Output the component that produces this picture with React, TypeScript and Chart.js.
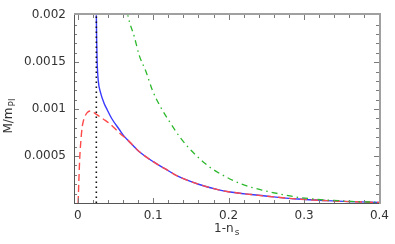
import React, { useEffect, useRef } from 'react';
import { Chart, registerables } from 'chart.js';

Chart.register(...registerables);

// ---- data ----
const blueX = [0.0245, 0.025, 0.0256, 0.0272, 0.03, 0.035, 0.0386, 0.045, 0.0553, 0.0605, 0.07, 0.0825, 0.1, 0.1167, 0.134, 0.16, 0.187, 0.2, 0.23, 0.26, 0.292, 0.33, 0.36, 0.4];
const blueY = [0.0021, 0.00175, 0.00152, 0.0013, 0.00118, 0.00106, 0.001, 0.0009, 0.00078, 0.00072, 0.00064, 0.00054, 0.00044, 0.00036, 0.00028, 0.0002, 0.00014, 0.00012, 0.00009, 0.000065, 0.000042, 0.000025, 0.000015, 0.000006];

const redX = [0.0005, 0.0015, 0.0026, 0.004, 0.0057, 0.008, 0.0122, 0.017, 0.022, 0.029, 0.0364, 0.043, 0.0496, 0.056, 0.065, 0.0825, 0.1, 0.1167, 0.134, 0.16, 0.187, 0.2, 0.23, 0.26, 0.292, 0.33, 0.36, 0.4];
const redY = [0.0, 0.00025, 0.00048, 0.00065, 0.0008, 0.00089, 0.00096, 0.00098, 0.00096, 0.00092, 0.00088, 0.00084, 0.00079, 0.00074, 0.00068, 0.00054, 0.00044, 0.00036, 0.00028, 0.0002, 0.00014, 0.00012, 0.00009, 0.000065, 0.000042, 0.000025, 0.000015, 0.000005];

const greenX = [0.0655, 0.0662, 0.075, 0.0816, 0.0904, 0.099, 0.11, 0.123, 0.1364, 0.154, 0.1737, 0.1915, 0.2175, 0.244, 0.268, 0.292, 0.318, 0.345, 0.371, 0.4];
const greenY = [0.00205, 0.00201, 0.00177, 0.00157, 0.0014, 0.0012, 0.00102, 0.00085, 0.00069, 0.00053, 0.00039, 0.0003, 0.0002, 0.000138, 0.000096, 0.000061, 0.000039, 0.000025, 0.000014, 0.000009];

const dottedX = [0.0246, 0.0246];
const dottedY = [0.0, 0.0021];

const xTickValues = [0, 0.1, 0.2, 0.3, 0.4];
const xTickLabels = ['0', '0.1', '0.2', '0.3', '0.4'];
const yTickValues = [0.0005, 0.001, 0.0015, 0.002];
const yTickLabels = ['0.0005', '0.001', '0.0015', '0.002'];
const xMinorStep = 0.02;
const yMinorStep = 0.0001;

const xTitle = '1-n';
const xTitleSub = 's';
const yTitle = 'M/m';
const yTitleSub = 'Pl';

const X_MIN = -0.005;
const X_MAX = 0.4;
const Y_MIN = 0;
const Y_MAX = 0.002;

const FONT = 'DejaVu Sans';

function zip(xs: number[], ys: number[]) {
  return xs.map((x, i) => ({ x, y: ys[i] }));
}

function labelFor(values: number[], labels: string[], v: number) {
  for (let i = 0; i < values.length; i++) {
    if (Math.abs(values[i] - v) < 1e-9) return labels[i];
  }
  return '';
}

const framePlugin = {
  id: 'frameTicks',
  afterDraw(chart: any) {
    const ctx = chart.ctx as CanvasRenderingContext2D;
    const ca = chart.chartArea;
    const L = Math.round(ca.left);
    const R = Math.round(ca.right);
    const T = Math.round(ca.top);
    const B = Math.round(ca.bottom);
    const xs = chart.scales.x;
    const ys = chart.scales.y;
    ctx.save();
    ctx.setLineDash([]);
    // ticks
    ctx.fillStyle = '#7a7a7a';
    const nX = Math.round(X_MAX / xMinorStep);
    for (let i = 0; i <= nX; i++) {
      const v = i * xMinorStep;
      const px = Math.round(xs.getPixelForValue(v));
      const major = xTickValues.some((t) => Math.abs(t - v) < 1e-9);
      const len = major ? 5 : 3;
      ctx.fillRect(px, B - len, 1, len);
      ctx.fillRect(px, T, 1, len);
    }
    const nY = Math.round((Y_MAX - Y_MIN) / yMinorStep);
    for (let i = 1; i < nY; i++) {
      const v = Y_MIN + i * yMinorStep;
      const py = Math.round(ys.getPixelForValue(v));
      const major = yTickValues.some((t) => Math.abs(t - v) < 1e-9);
      const len = major ? 5 : 3;
      ctx.fillRect(L, py, len, 1);
      ctx.fillRect(R - len, py, len, 1);
    }
    // frame
    ctx.fillStyle = '#555555';
    ctx.fillRect(L, T, 1, B - T + 1);
    ctx.fillRect(L, B, R - L + 1, 1);
    ctx.fillStyle = '#a0a0a0';
    ctx.fillRect(L, T - 2, R - L + 2, 2);
    ctx.fillRect(R, T - 2, 2, B - T + 3);

    // titles
    ctx.fillStyle = '#333';
    ctx.textBaseline = 'alphabetic';
    ctx.textAlign = 'left';
    ctx.font = `12px "${FONT}"`;
    const wMain = ctx.measureText(xTitle).width;
    ctx.font = `9px "${FONT}"`;
    const wSub = ctx.measureText(xTitleSub).width;
    const cx = (ca.left + ca.right) / 2;
    const startX = cx - (wMain + wSub + 1) / 2;
    ctx.font = `12px "${FONT}"`;
    ctx.fillText(xTitle, startX, 232);
    ctx.font = `9px "${FONT}"`;
    ctx.fillText(xTitleSub, startX + wMain + 1, 235);
    // y title (rotated)
    ctx.translate(12, (ca.top + ca.bottom) / 2 + 7);
    ctx.rotate(-Math.PI / 2);
    ctx.font = `12px "${FONT}"`;
    const yMain = ctx.measureText(yTitle).width;
    ctx.font = `9px "${FONT}"`;
    const ySub = ctx.measureText(yTitleSub).width;
    const sy = -(yMain + ySub + 1) / 2;
    ctx.font = `12px "${FONT}"`;
    ctx.fillText(yTitle, sy, 0);
    ctx.font = `9px "${FONT}"`;
    ctx.fillText(yTitleSub, sy + yMain + 1, 3);
    ctx.restore();
  },
};

export default function App() {
  const ref = useRef<HTMLCanvasElement | null>(null);
  useEffect(() => {
    if (!ref.current) return;
    const chart = new Chart(ref.current, {
      type: 'scatter',
      data: {
        datasets: [
          {
            label: 'dotted',
            data: zip(dottedX, dottedY),
            showLine: true,
            borderColor: '#111',
            borderWidth: 1.6,
            borderDash: [1.6, 3.4],
            pointRadius: 0,
          },
          {
            label: 'green',
            data: zip(greenX, greenY),
            showLine: true,
            borderColor: '#2cb82c',
            borderWidth: 1.3,
            borderDash: [6, 4, 1.5, 4],
            pointRadius: 0,
            cubicInterpolationMode: 'monotone',
          },
          {
            label: 'red',
            data: zip(redX, redY),
            showLine: true,
            borderColor: '#ff4a4a',
            borderWidth: 1.4,
            borderDash: [7, 4],
            pointRadius: 0,
            cubicInterpolationMode: 'monotone',
          },
          {
            label: 'blue',
            data: zip(blueX, blueY),
            showLine: true,
            borderColor: '#3a3aff',
            borderWidth: 1.4,
            pointRadius: 0,
            cubicInterpolationMode: 'monotone',
          },
        ],
      },
      options: {
        animation: false,
        responsive: false,
        maintainAspectRatio: false,
        layout: { padding: { left: 0, top: 14, right: 13, bottom: 0 } },
        plugins: {
          legend: { display: false },
          tooltip: { enabled: false },
          title: { display: false },
        },
        scales: {
          x: {
            type: 'linear',
            min: X_MIN,
            max: X_MAX,
            grid: { display: false, drawTicks: false },
            border: { display: false },
            afterBuildTicks: (scale: any) => {
              scale.ticks = xTickValues.map((v) => ({ value: v }));
            },
            afterFit: (scale: any) => {
              scale.height = 41;
            },
            ticks: {
              padding: 6,
              maxRotation: 0,
              autoSkip: false,
              color: '#333',
              font: { family: FONT, size: 12 },
              callback: (v: any) => labelFor(xTickValues, xTickLabels, Number(v)),
            },
          },
          y: {
            type: 'linear',
            min: Y_MIN,
            max: Y_MAX,
            grid: { display: false, drawTicks: false },
            border: { display: false },
            afterBuildTicks: (scale: any) => {
              scale.ticks = yTickValues.map((v) => ({ value: v }));
            },
            afterFit: (scale: any) => {
              scale.width = 74;
            },
            ticks: {
              padding: 8,
              autoSkip: false,
              color: '#333',
              font: { family: FONT, size: 12 },
              callback: (v: any) => labelFor(yTickValues, yTickLabels, Number(v)),
            },
          },
        },
      },
      plugins: [framePlugin],
    } as any);
    return () => chart.destroy();
  }, []);
  return (
    <div style={{ position: 'fixed', left: 0, top: 0, width: 395, height: 244, background: '#fff' }}>
      <canvas ref={ref} width={395} height={244} style={{ width: 395, height: 244 }} />
    </div>
  );
}
